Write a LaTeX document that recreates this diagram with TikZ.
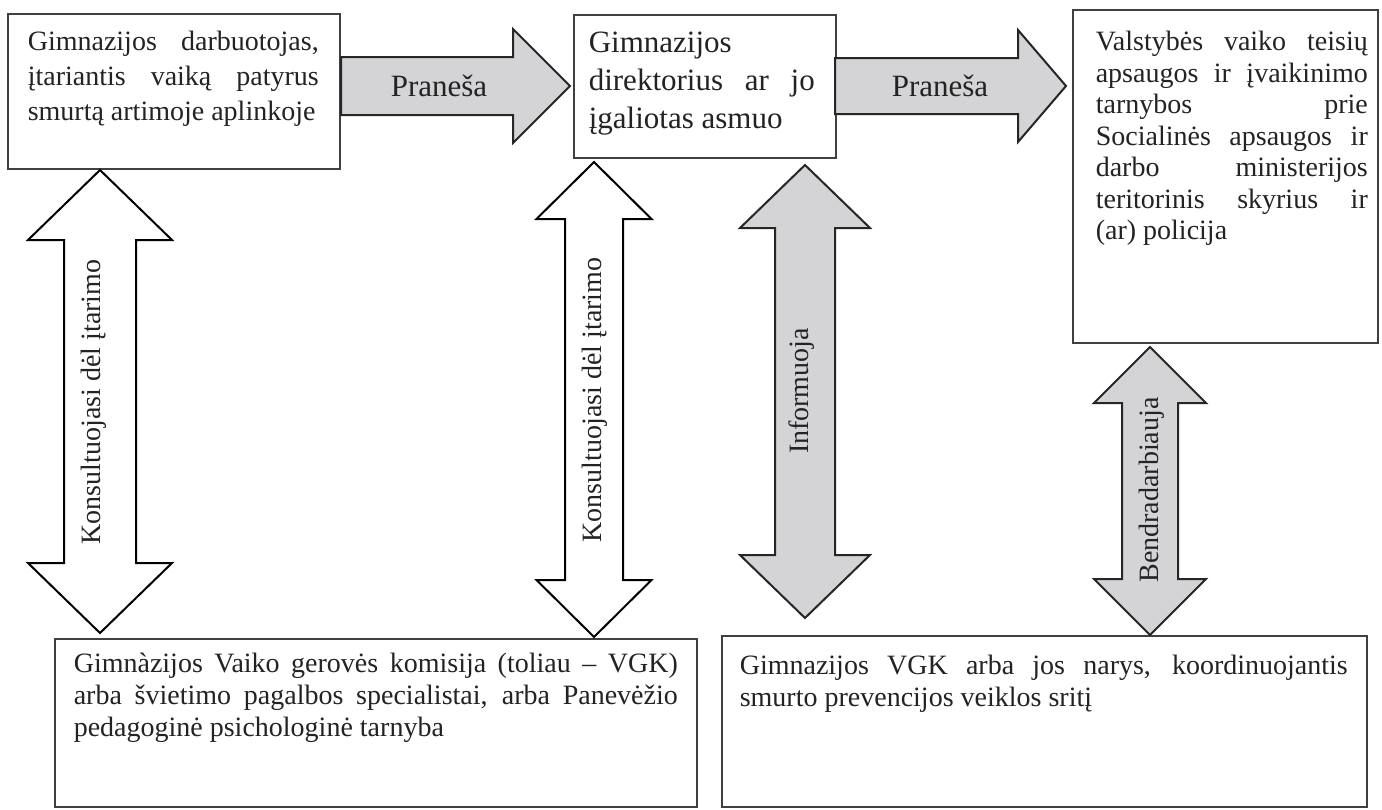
\documentclass[tikz,border=0pt]{standalone}
\usepackage{fontspec}
\setmainfont{Liberation Serif}
\usetikzlibrary{calc}
\newdimen\px \px=0.5pt
\newdimen\tw
\newcommand\jl[1]{\hbox to \tw{#1}}
\newcommand\nl[1]{\hbox to \tw{#1\hfil}}
% W H padleft textwidth firstbaseline baselineskip lines (all in px)
\newcommand\tbox[7]{\hbox to #1\px{\hskip #3\px\vbox to #2\px{\tw=#4\px\baselineskip=#6\px\lineskiplimit=-1000pt\lineskip=0pt\kern\dimexpr #5\px-#6\px\relax\hbox{}#7\vfil}\hss}}
\newcommand\vdarrow[6]{\draw[#1] (#2) -- ($(#2)+(#5,#6)$) -- ($(#2)+(#4,#6)$) -- ($(#3)+(#4,-#6)$) -- ($(#3)+(#5,-#6)$) -- (#3) -- ($(#3)+(-#5,-#6)$) -- ($(#3)+(-#4,-#6)$) -- ($(#2)+(-#4,#6)$) -- ($(#2)+(-#5,#6)$) -- cycle;}
\newcommand\harrow[6]{\draw[#1] ($(#2)+(0,-#4)$) -- ($(#3)+(-#6,-#4)$) -- ($(#3)+(-#6,-#5)$) -- (#3) -- ($(#3)+(-#6,#5)$) -- ($(#3)+(-#6,#4)$) -- ($(#2)+(0,#4)$) -- cycle;}
\definecolor{ink}{RGB}{35,35,35}
\definecolor{arrowgray}{RGB}{212,212,215}
\tikzset{
  box/.style={draw=black!75, line width=0.8pt, fill=white, inner sep=0pt, anchor=north west, text=ink, font=\fontsize{14pt}{16pt}\selectfont},
  bigbox/.style={box, font=\fontsize{15.5pt}{18pt}\selectfont},
  whitearrow/.style={draw=black, line width=1pt, fill=white, line join=miter},
  grayarrow/.style={draw=black!85, line width=1pt, fill=arrowgray, line join=miter},
  lbl/.style={inner sep=0pt, text=ink, font=\fontsize{14pt}{16pt}\selectfont},
  hlbl/.style={lbl, font=\fontsize{15.5pt}{18pt}\selectfont},
  vlbl/.style={lbl, rotate=90}
}
\begin{document}
\begin{tikzpicture}[x=0.5pt,y=-0.5pt]
\useasboundingbox (0,0) rectangle (1382,809);
\fill[white] (0,0) rectangle (1382,809);

% boxes
\node[box] (b1) at (7,13) {\tbox{332}{155}{20}{291}{37}{35}{%
  \jl{Gimnazijos darbuotojas,}
  \jl{įtariantis vaiką patyrus}
  \nl{smurtą artimoje aplinkoje}}};
\node[bigbox] (b2) at (573,14) {\tbox{262}{143}{15}{226}{38}{38}{%
  \nl{Gimnazijos}
  \jl{direktorius ar jo}
  \nl{įgaliotas asmuo}}};
\node[box] (b3) at (1072,9) {\tbox{305}{333}{23}{272}{41}{31.5}{%
  \jl{Valstybės vaiko teisių}
  \jl{apsaugos ir įvaikinimo}
  \jl{tarnybos prie}
  \jl{Socialinės apsaugos ir}
  \jl{darbo ministerijos}
  \jl{teritorinis skyrius ir}
  \nl{(ar) policija}}};
\node[box] (b4) at (54,638) {\tbox{642}{168}{19}{604}{34}{32}{%
  \jl{Gimnàzijos Vaiko gerovės komisija (toliau – VGK)}
  \jl{arba švietimo pagalbos specialistai, arba Panevėžio}
  \nl{pedagoginė psichologinė tarnyba}}};
\node[box] (b5) at (721,635) {\tbox{645}{171}{18}{608}{39}{32}{%
  \jl{Gimnazijos VGK arba jos narys, koordinuojantis}
  \nl{smurto prevencijos veiklos sritį}}};

% horizontal arrows
\coordinate (a1s) at (341,86);
\coordinate (a1t) at (570,86);
\coordinate (a2s) at (835,86);
\coordinate (a2t) at (1066,86);
\harrow{grayarrow}{a1s}{a1t}{29}{57}{57}
\harrow{grayarrow}{a2s}{a2t}{28}{56}{48}
\node[hlbl] (p1) at (439,86) {Praneša};
\node[hlbl] (p2) at (940,86) {Praneša};

% vertical arrows
\coordinate (k1t) at (100,170);
\coordinate (k1b) at (100,633);
\coordinate (k2t) at (594,162);
\coordinate (k2b) at (594,637);
\coordinate (ift) at (805,165);
\coordinate (ifb) at (805,618);
\coordinate (bdt) at (1150,347);
\coordinate (bdb) at (1150,635);
\vdarrow{whitearrow}{k1t}{k1b}{36}{72}{70}
\vdarrow{whitearrow}{k2t}{k2b}{29}{57.5}{57}
\vdarrow{grayarrow}{ift}{ifb}{30}{65}{63}
\vdarrow{grayarrow}{bdt}{bdb}{28}{56}{56}
\node[vlbl] (l1) at (94,402) {Konsultuojasi dėl įtarimo};
\node[vlbl] (l2) at (595,400) {Konsultuojasi dėl įtarimo};
\node[vlbl] (l3) at (802,391) {Informuoja};
\node[vlbl] (l4) at (1152,490) {Bendradarbiauja};
\end{tikzpicture}
\end{document}
